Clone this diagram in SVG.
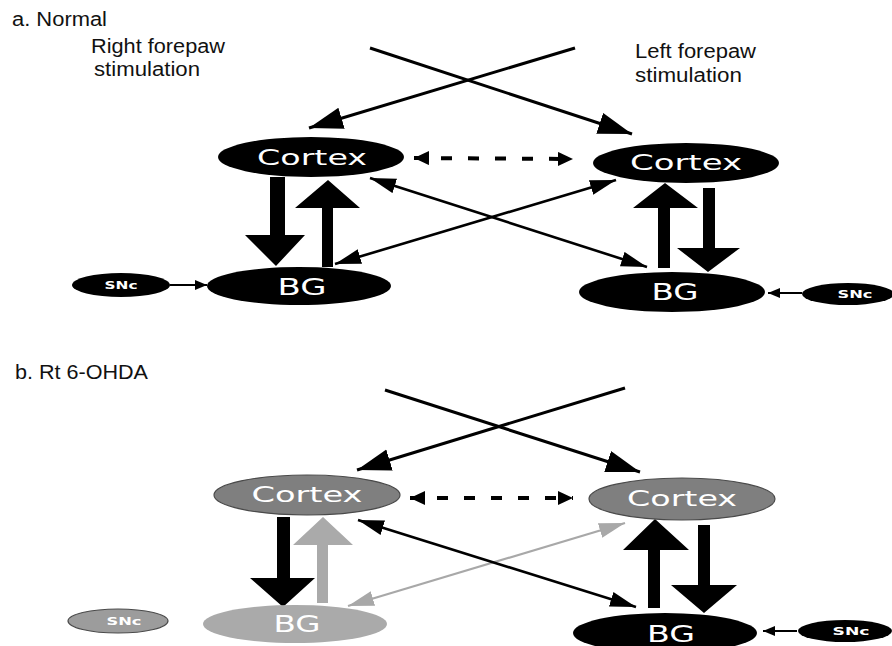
<svg xmlns="http://www.w3.org/2000/svg" width="892" height="646" viewBox="0 0 892 646">
<defs>
<style>
.lbl{font-family:"Liberation Sans","Noto Sans",sans-serif;font-size:20px;fill:#111}
.nt{font-family:"DejaVu Sans","Liberation Sans",sans-serif;fill:#fff;text-anchor:middle}
.ctx{font-size:21px}
.bg{font-size:23px}
.snc{font-size:11px;font-weight:bold}
.blk{fill:#000}
.gry{fill:#7f7f7f;stroke:#4a4a4a;stroke-width:1.2}
.lgt{fill:#aaaaaa}
.lgto{fill:#9c9c9c;stroke:#4a4a4a;stroke-width:1.2}
.ln{fill:none;stroke:#000;stroke-width:3}
.thin{fill:none;stroke:#000;stroke-width:2.6}
.thing{fill:none;stroke:#a8a8a8;stroke-width:2.2}
.dash{fill:none;stroke:#000;stroke-width:4;stroke-dasharray:11 16}
.sn{fill:none;stroke:#000;stroke-width:2}
</style>
<marker id="big" markerUnits="userSpaceOnUse" markerWidth="40" markerHeight="26" refX="34" refY="11" orient="auto"><path d="M0,0 L34,11 L0,22 z" fill="#000"/></marker>
<marker id="mid" markerUnits="userSpaceOnUse" markerWidth="30" markerHeight="18" refX="26" refY="7.5" orient="auto-start-reverse"><path d="M0,0 L26,7.5 L0,15 z" fill="#000"/></marker>
<marker id="midg" markerUnits="userSpaceOnUse" markerWidth="30" markerHeight="18" refX="26" refY="7.5" orient="auto-start-reverse"><path d="M0,0 L26,7.5 L0,15 z" fill="#a8a8a8"/></marker>
<marker id="dsh" markerUnits="userSpaceOnUse" markerWidth="18" markerHeight="16" refX="15" refY="7" orient="auto-start-reverse"><path d="M0,0 L15,7 L0,14 z" fill="#000"/></marker>
<marker id="sm" markerUnits="userSpaceOnUse" markerWidth="14" markerHeight="12" refX="12" refY="5" orient="auto"><path d="M0,0 L12,5 L0,10 z" fill="#000"/></marker>
</defs>
<rect width="892" height="646" fill="#fff"/>

<g id="labels">
<text class="lbl" x="12" y="26" textLength="95" lengthAdjust="spacingAndGlyphs">a. Normal</text>
<text class="lbl" x="91" y="53" textLength="134" lengthAdjust="spacingAndGlyphs">Right forepaw</text>
<text class="lbl" x="94" y="76" textLength="106" lengthAdjust="spacingAndGlyphs">stimulation</text>
<text class="lbl" x="635" y="58" textLength="121" lengthAdjust="spacingAndGlyphs">Left forepaw</text>
<text class="lbl" x="635" y="82" textLength="107" lengthAdjust="spacingAndGlyphs">stimulation</text>
<text class="lbl" x="15" y="379" textLength="133" lengthAdjust="spacingAndGlyphs">b. Rt 6-OHDA</text>
</g>

<g id="connectors">
<!-- panel a -->
<path class="ln" d="M575,48 L309,128" marker-end="url(#big)"/>
<path class="ln" d="M370,48 L632,134" marker-end="url(#big)"/>
<path class="dash" d="M414,158 L573,159" marker-start="url(#dsh)" marker-end="url(#dsh)"/>
<path class="thin" d="M335,264 L616,180" marker-start="url(#mid)" marker-end="url(#mid)"/>
<path class="thin" d="M370,178 L647,267" marker-start="url(#mid)" marker-end="url(#mid)"/>
<path class="sn" d="M170,285 L207,285" marker-end="url(#sm)"/>
<path class="sn" d="M802,293 L768,293" marker-end="url(#sm)"/>
<polygon class="blk" points="270,177 285,177 285,235 305,235 276,266 245,235 270,235"/>
<polygon class="blk" points="322,267 333,267 333,208 360,208 328,180 295,208 322,208"/>
<polygon class="blk" points="658,268 670,268 670,208 698,208 665,183 633,208 658,208"/>
<polygon class="blk" points="703,188 715,188 715,248 740,248 708,272 677,248 703,248"/>
<!-- panel b -->
<path class="ln" d="M625,388 L357,470" marker-end="url(#big)"/>
<path class="ln" d="M385,390 L640,472" marker-end="url(#big)"/>
<path class="dash" d="M410,498 L573,498" marker-start="url(#dsh)" marker-end="url(#dsh)"/>
<path class="thing" d="M348,606 L625,523" marker-start="url(#midg)" marker-end="url(#midg)"/>
<path class="thin" d="M358,520 L636,607" marker-start="url(#mid)" marker-end="url(#mid)"/>
<path class="sn" d="M797,631 L763,631" marker-end="url(#sm)"/>
<polygon class="blk" points="277,517 290,517 290,578 315,578 283,607 250,578 277,578"/>
<polygon class="lgt" points="317,603 328,603 328,545 353,545 323,517 293,545 317,545"/>
<polygon class="blk" points="648,608 660,608 660,550 689,550 655,519 623,550 648,550"/>
<polygon class="blk" points="698,525 710,525 710,585 737,585 704,613 671,585 698,585"/>
</g>

<g id="a-cortex-left"><ellipse class="blk" cx="311" cy="157" rx="93" ry="20"/><text class="nt ctx" x="312" y="165" textLength="110" lengthAdjust="spacingAndGlyphs">Cortex</text></g>
<g id="a-bg-left"><ellipse class="blk" cx="299" cy="286" rx="92" ry="19"/><text class="nt bg" x="302" y="295" textLength="49" lengthAdjust="spacingAndGlyphs">BG</text></g>
<g id="a-snc-left"><ellipse class="blk" cx="121" cy="285" rx="49" ry="12"/><text class="nt snc" x="121" y="289" textLength="33" lengthAdjust="spacingAndGlyphs">SNc</text></g>
<g id="a-cortex-right"><ellipse class="blk" cx="686" cy="163" rx="93" ry="20"/><text class="nt ctx" x="686" y="170" textLength="112" lengthAdjust="spacingAndGlyphs">Cortex</text></g>
<g id="a-bg-right"><ellipse class="blk" cx="672" cy="292" rx="93" ry="20"/><text class="nt bg" x="675" y="300" textLength="47" lengthAdjust="spacingAndGlyphs">BG</text></g>
<g id="a-snc-right"><ellipse class="blk" cx="848" cy="294" rx="46" ry="11"/><text class="nt snc" x="855" y="298" textLength="35" lengthAdjust="spacingAndGlyphs">SNc</text></g>

<g id="b-cortex-left"><ellipse class="gry" cx="307" cy="495" rx="93" ry="20"/><text class="nt ctx" x="307" y="502" textLength="111" lengthAdjust="spacingAndGlyphs">Cortex</text></g>
<g id="b-bg-left"><ellipse class="lgt" cx="295" cy="624" rx="92" ry="19"/><text class="nt bg" x="297" y="632" textLength="47" lengthAdjust="spacingAndGlyphs">BG</text></g>
<g id="b-snc-left"><ellipse class="lgto" cx="118" cy="621" rx="50" ry="12"/><text class="nt snc" x="124" y="625" textLength="35" lengthAdjust="spacingAndGlyphs">SNc</text></g>
<g id="b-cortex-right"><ellipse class="gry" cx="682" cy="499" rx="93" ry="21"/><text class="nt ctx" x="682" y="506" textLength="110" lengthAdjust="spacingAndGlyphs">Cortex</text></g>
<g id="b-bg-right"><ellipse class="blk" cx="665" cy="633" rx="92" ry="20"/><text class="nt bg" x="671" y="642" textLength="48" lengthAdjust="spacingAndGlyphs">BG</text></g>
<g id="b-snc-right"><ellipse class="blk" cx="845" cy="631" rx="47" ry="11"/><text class="nt snc" x="851" y="635" textLength="37" lengthAdjust="spacingAndGlyphs">SNc</text></g>
</svg>
